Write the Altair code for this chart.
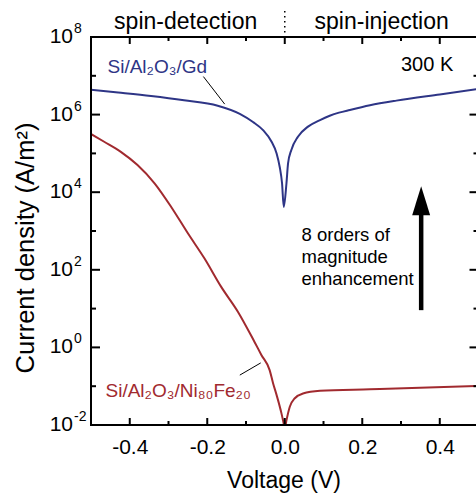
import altair as alt
import pandas as pd

FONT = "Liberation Sans"
BLUE = "#2e3586"
RED = "#a12a2f"
W, H = 385, 388

# Si/Al2O3/Gd  (voltage V, log10 of current density A/m^2)
blue_v = [-0.5, -0.43, -0.345, -0.26, -0.173, -0.116, -0.082, -0.056, -0.034, -0.021,
          -0.013, -0.007, -0.0026, 0.0044, 0.0085, 0.017, 0.034, 0.060, 0.091, 0.116,
          0.14, 0.168, 0.22, 0.288, 0.4, 0.5]
blue_log = [6.64, 6.57, 6.48, 6.37, 6.23, 6.02, 5.81, 5.60, 5.30, 5.00,
            4.65, 4.23, 3.62, 4.23, 4.74, 5.09, 5.43, 5.69, 5.86, 5.97,
            6.05, 6.12, 6.24, 6.36, 6.52, 6.66]

# Si/Al2O3/Ni80Fe20
red_v = [-0.5, -0.466, -0.423, -0.380, -0.336, -0.293, -0.250, -0.207, -0.164, -0.121,
         -0.078, -0.06, -0.039, -0.03, -0.021, -0.0085, -0.003, 0.0, 0.004, 0.013,
         0.026, 0.047, 0.091, 0.22, 0.349, 0.5]
red_log = [5.50, 5.30, 5.04, 4.70, 4.23, 3.62, 2.94, 2.29, 1.56, 0.92,
           0.14, -0.2, -0.585, -0.93, -1.23, -1.70, -1.95, -2.1, -1.9, -1.53,
           -1.31, -1.19, -1.12, -1.08, -1.04, -0.99]

x_major = [-0.4, -0.2, 0.0, 0.2, 0.4]
x_minor = [-0.3, -0.1, 0.1, 0.3]
y_major_exp = [-2, 0, 2, 4, 6, 8]
y_major_sup = ["-2", "0", "2", "4", "6", "8"]
y_minor_exp = [-1, 1, 3, 5, 7]

blue_df = pd.DataFrame({"V": blue_v, "J": [10 ** e for e in blue_log]})
red_df = pd.DataFrame({"V": red_v, "J": [10 ** e for e in red_log]})
xmaj_df = pd.DataFrame({"V": x_major})
xmin_df = pd.DataFrame({"V": x_minor})
ymaj_df = pd.DataFrame({"J": [10.0 ** e for e in y_major_exp], "sup": y_major_sup})
ymin_df = pd.DataFrame({"J": [10.0 ** e for e in y_minor_exp]})
one = alt.Data(values=[{}])

xscale = alt.Scale(domain=[-0.5, 0.4935], nice=False, zero=False)
yscale = alt.Scale(type="log", domain=[1e-2, 1e8], nice=False)

xaxis = alt.Axis(values=x_major, labelExpr="replace(format(datum.value, '.1f'), '\u2212', '-')",
                 ticks=False, domain=False, grid=False, labelFontSize=21, labelFont=FONT,
                 labelColor="black", labelPadding=11, labelFlush=False,
                 title="Voltage (V)", titleFontSize=23, titleFont=FONT,
                 titleFontWeight="normal", titleColor="black", titlePadding=12)
yaxis = alt.Axis(labels=False, ticks=False, domain=False, grid=False, title=None)


def X(field="V"):
    return alt.X(f"{field}:Q", scale=xscale, axis=xaxis)


def Y(field="J"):
    return alt.Y(f"{field}:Q", scale=yscale, axis=yaxis)


blue_line = alt.Chart(blue_df).mark_line(color=BLUE, strokeWidth=2, clip=True,
                                         interpolate="monotone").encode(x=X(), y=Y())
red_line = alt.Chart(red_df).mark_line(color=RED, strokeWidth=2, clip=True,
                                       interpolate="monotone").encode(x=X(), y=Y())

rule = dict(color="black", strokeWidth=2)
frame_left = alt.Chart(one).mark_rule(**rule).encode(x=alt.value(0), y=alt.value(-1), y2=alt.value(H + 1))
frame_bot = alt.Chart(one).mark_rule(**rule).encode(y=alt.value(H), x=alt.value(0), x2=alt.value(W + 5))
frame_top = alt.Chart(one).mark_rule(**rule).encode(y=alt.value(0), x=alt.value(0), x2=alt.value(W + 5))

xt = [
    alt.Chart(xmaj_df).mark_rule(**rule).encode(x=X(), y=alt.value(H), y2=alt.value(H - 7)),
    alt.Chart(xmaj_df).mark_rule(**rule).encode(x=X(), y=alt.value(0), y2=alt.value(7)),
    alt.Chart(xmin_df).mark_rule(**rule).encode(x=X(), y=alt.value(H), y2=alt.value(H - 4)),
    alt.Chart(xmin_df).mark_rule(**rule).encode(x=X(), y=alt.value(0), y2=alt.value(4)),
]
yt = [
    alt.Chart(ymaj_df).mark_rule(**rule).encode(y=Y(), x=alt.value(0), x2=alt.value(9)),
    alt.Chart(ymin_df).mark_rule(**rule).encode(y=Y(), x=alt.value(0), x2=alt.value(5)),
    alt.Chart(ymaj_df).mark_rule(**rule).encode(y=Y(), x=alt.value(387.5), x2=alt.value(378.5)),
    alt.Chart(ymin_df).mark_rule(**rule).encode(y=Y(), x=alt.value(387.5), x2=alt.value(382.5)),
]
ylab_base = alt.Chart(ymaj_df).mark_text(font=FONT, fontSize=21, align="right", baseline="middle",
                                         color="black").encode(y=Y(), x=alt.value(-18), text=alt.value("10"))
ylab_sup = alt.Chart(ymaj_df).mark_text(font=FONT, fontSize=14, align="left", baseline="middle",
                                        dy=-8, color="black").encode(y=Y(), x=alt.value(-17), text="sup:N")


def label(txt, x, y, size, color="black", align="left", baseline="alphabetic", angle=0):
    return alt.Chart(one).mark_text(text=txt, font=FONT, fontSize=size, align=align, angle=angle,
                                    baseline=baseline, color=color, lineHeight=22).encode(
        x=alt.value(x), y=alt.value(y))


texts = [
    label("spin-detection", 94.7, -8, 23, align="center"),
    label("spin-injection", 290.7, -8, 23, align="center"),
    label("Si/Al\u2082O\u2083/Gd", 16.5, 35.7, 19, BLUE),
    label("300 K", 310, 33.7, 20),
    label(["8 orders of", "magnitude", "enhancement"], 210.5, 203.7, 18.5),
    label("Si/Al\u2082O\u2083/Ni\u2088\u2080Fe\u2082\u2080", 14.5, 359.7, 19, RED),
    label("Current density (A/m\u00b2)", -65, 211, 25.5, align="center", baseline="middle", angle=270),
]

divider = alt.Chart(pd.DataFrame({"V": [0.0]})).mark_rule(
    color="black", strokeWidth=1.5, strokeDash=[1.5, 3.5]).encode(
    x=X(), y=alt.value(-26), y2=alt.value(0))

ann_df = pd.DataFrame({"V": [-0.210, -0.116], "V2": [-0.155, -0.062],
                       "J": [10 ** 6.98, 10 ** -0.714], "J2": [10 ** 6.27, 10 ** -0.40]})
ann = alt.Chart(ann_df).mark_rule(color="black", strokeWidth=1).encode(
    x=X(), x2="V2:Q", y=Y(), y2="J2:Q")

arrow_df = pd.DataFrame({"V": [0.352], "J": [10 ** 0.96], "J2": [10 ** 3.45], "Jh": [10 ** 3.78]})
arrow_shaft = alt.Chart(arrow_df).mark_rule(color="black", strokeWidth=4.5).encode(
    x=X(), y=Y(), y2="J2:Q")
arrow_head = alt.Chart(arrow_df).mark_point(
    shape="M0,-1L0.62,1L-0.62,1Z", filled=True, color="black", size=841, opacity=1, strokeWidth=0
).encode(x=X(), y=Y("Jh"))

chart = alt.layer(
    blue_line, red_line, frame_left, frame_bot, frame_top, *xt, *yt, ylab_base, ylab_sup,
    divider, ann, arrow_shaft, arrow_head, *texts
).properties(
    width=W, height=H,
    padding={"left": 91, "top": 37, "right": 0, "bottom": 69},
    autosize=alt.AutoSizeParams(type="none"),
    background="white",
).configure_view(stroke=None)

chart.save("out.html", embed_options={"renderer": "svg", "actions": False})
